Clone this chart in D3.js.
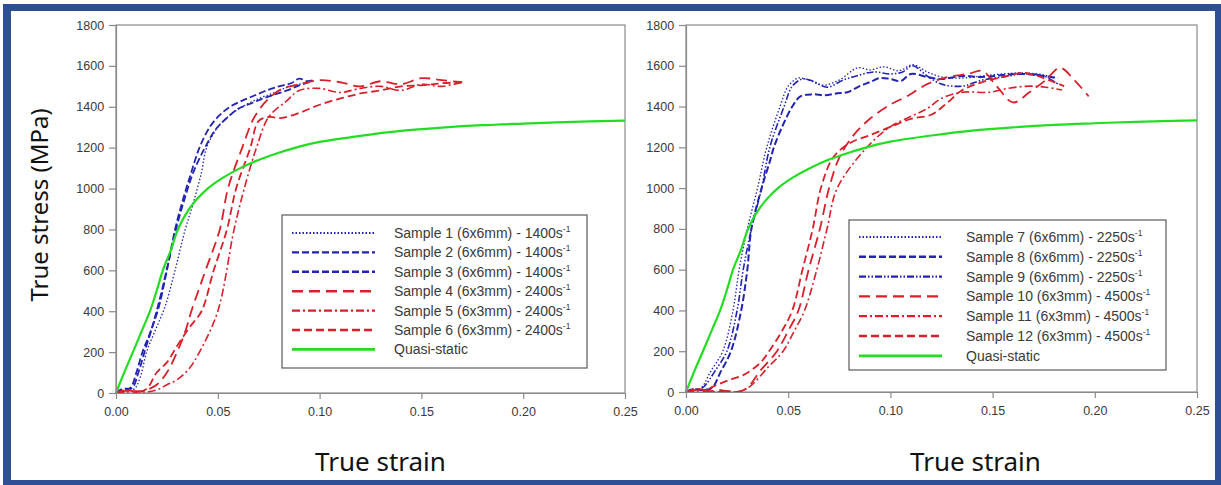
<!DOCTYPE html>
<html>
<head>
<meta charset="utf-8">
<script src="https://cdn.jsdelivr.net/npm/d3@7"></script>
<style>
  body { margin: 0; background: #fff; }
  svg { display: block; }
</style>
</head>
<body>
<svg id="chart" width="1221" height="485"></svg>
<script>
// strain / stress pairs
const quasiStatic = [[0,0],[0.004,100],[0.0083,200],[0.0125,300],[0.0167,400],[0.020,500],[0.023,600],[0.027,700],[0.030,790],[0.034,870],[0.039,940],[0.045,1000],[0.052,1050],[0.061,1100],[0.07,1140],[0.08,1175],[0.09,1205],[0.10,1228],[0.12,1258],[0.14,1282],[0.16,1298],[0.18,1310],[0.20,1318],[0.22,1325],[0.25,1332]];

const sample1 = [[0,0],[0.005,10],[0.009,20],[0.012,80],[0.015,200],[0.019,300],[0.024,420],[0.029,600],[0.034,800],[0.038,930],[0.042,1080],[0.0445,1200],[0.050,1300],[0.056,1360],[0.062,1400],[0.070,1440],[0.078,1470],[0.084,1495],[0.090,1510],[0.094,1520]];
const sample2 = [[0,0],[0.003,20],[0.007,25],[0.010,100],[0.013,200],[0.017,300],[0.021,420],[0.025,600],[0.029,800],[0.033,950],[0.037,1080],[0.041,1200],[0.046,1300],[0.051,1360],[0.056,1400],[0.062,1430],[0.068,1455],[0.074,1480],[0.080,1500],[0.086,1515],[0.090,1538],[0.094,1525],[0.097,1530]];
const sample3 = [[0,0],[0.004,15],[0.008,25],[0.011,100],[0.014,200],[0.018,330],[0.022,480],[0.026,650],[0.030,820],[0.034,960],[0.038,1080],[0.0437,1200],[0.049,1290],[0.055,1350],[0.060,1390],[0.066,1415],[0.072,1440],[0.078,1460],[0.084,1480],[0.090,1505],[0.095,1520]];
const sample4 = [[0,0],[0.005,10],[0.010,5],[0.015,15],[0.020,40],[0.025,100],[0.030,200],[0.034,300],[0.037,400],[0.044,600],[0.051,800],[0.055,1000],[0.062,1200],[0.068,1350],[0.075,1440],[0.082,1490],[0.090,1510],[0.10,1530],[0.11,1520],[0.12,1500],[0.13,1525],[0.14,1510],[0.15,1540],[0.16,1530],[0.17,1520]];
const sample5 = [[0,0],[0.005,5],[0.010,10],[0.015,5],[0.020,15],[0.025,40],[0.030,65],[0.036,120],[0.041,200],[0.050,400],[0.058,800],[0.063,1000],[0.069,1200],[0.075,1350],[0.084,1430],[0.090,1480],[0.10,1490],[0.11,1470],[0.12,1490],[0.13,1500],[0.14,1480],[0.15,1510],[0.16,1500],[0.17,1520]];
const sample6 = [[0,0],[0.005,15],[0.010,5],[0.015,20],[0.020,100],[0.025,150],[0.030,230],[0.036,320],[0.042,400],[0.048,600],[0.0545,800],[0.059,1000],[0.066,1200],[0.070,1330],[0.075,1350],[0.081,1345],[0.090,1370],[0.10,1410],[0.11,1440],[0.12,1465],[0.13,1480],[0.14,1500],[0.15,1505],[0.16,1515],[0.17,1520]];

const sample7 = [[0,0],[0.003,15],[0.006,10],[0.0083,30],[0.012,100],[0.018,200],[0.023,400],[0.026,600],[0.030,800],[0.035,1000],[0.0395,1200],[0.046,1400],[0.050,1500],[0.055,1540],[0.060,1530],[0.067,1505],[0.075,1530],[0.084,1590],[0.090,1580],[0.097,1595],[0.104,1575],[0.111,1605],[0.118,1570],[0.125,1545],[0.135,1540],[0.145,1550],[0.155,1560],[0.165,1565],[0.175,1555],[0.180,1540]];
const sample8 = [[0,0],[0.004,15],[0.008,10],[0.0127,20],[0.017,100],[0.022,200],[0.027,400],[0.030,600],[0.032,800],[0.037,1000],[0.041,1130],[0.043,1200],[0.047,1300],[0.052,1400],[0.056,1450],[0.062,1460],[0.068,1455],[0.074,1465],[0.079,1470],[0.085,1500],[0.090,1520],[0.095,1540],[0.100,1535],[0.105,1525],[0.110,1560],[0.118,1545],[0.125,1535],[0.135,1550],[0.145,1545],[0.155,1555],[0.165,1560],[0.175,1550],[0.182,1540]];
const sample9 = [[0,0],[0.004,10],[0.008,20],[0.010,40],[0.014,100],[0.020,200],[0.025,400],[0.028,600],[0.032,800],[0.037,1000],[0.041,1200],[0.048,1400],[0.052,1500],[0.057,1535],[0.062,1525],[0.069,1495],[0.077,1530],[0.085,1555],[0.092,1570],[0.100,1560],[0.106,1570],[0.111,1600],[0.118,1550],[0.125,1510],[0.135,1500],[0.145,1530],[0.155,1545],[0.165,1560],[0.175,1550],[0.182,1510]];
const sample10 = [[0,0],[0.005,10],[0.010,0],[0.015,10],[0.020,5],[0.025,0],[0.030,20],[0.036,100],[0.0445,200],[0.050,300],[0.055,400],[0.060,600],[0.0655,800],[0.070,1000],[0.075,1150],[0.082,1260],[0.090,1340],[0.100,1410],[0.108,1450],[0.118,1510],[0.128,1545],[0.138,1560],[0.145,1575],[0.152,1500],[0.160,1420],[0.168,1470],[0.176,1530],[0.183,1590],[0.190,1530],[0.197,1450]];
const sample11 = [[0,0],[0.005,5],[0.010,10],[0.015,0],[0.020,5],[0.025,0],[0.031,25],[0.040,120],[0.0475,200],[0.053,300],[0.058,400],[0.064,600],[0.069,800],[0.074,1000],[0.0885,1200],[0.0998,1300],[0.1096,1350],[0.118,1390],[0.125,1440],[0.135,1470],[0.1487,1470],[0.158,1490],[0.168,1500],[0.176,1495],[0.184,1481]];
const sample12 = [[0,0],[0.005,15],[0.010,10],[0.013,25],[0.020,55],[0.028,83],[0.036,140],[0.041,205],[0.047,300],[0.052,400],[0.057,600],[0.062,800],[0.066,1000],[0.072,1150],[0.080,1220],[0.090,1260],[0.100,1300],[0.110,1340],[0.120,1360],[0.128,1420],[0.135,1480],[0.145,1520],[0.155,1545],[0.165,1565],[0.172,1550],[0.180,1520],[0.185,1500]];

const leftLabels = ["Sample 1 (6x6mm) - 1400s", "Sample 2 (6x6mm) - 1400s", "Sample 3 (6x6mm) - 1400s",
  "Sample 4 (6x3mm) - 2400s", "Sample 5 (6x3mm) - 2400s", "Sample 6 (6x3mm) - 2400s", "Quasi-static"];
const rightLabels = ["Sample 7 (6x6mm) - 2250s", "Sample 8 (6x6mm) - 2250s", "Sample 9 (6x6mm) - 2250s",
  "Sample 10 (6x3mm) - 4500s", "Sample 11 (6x3mm) - 4500s", "Sample 12 (6x3mm) - 4500s", "Quasi-static"];

const xTicks = [0, 0.05, 0.10, 0.15, 0.20, 0.25];
const yTicks = [0, 200, 400, 600, 800, 1000, 1200, 1400, 1600, 1800];

const BLUE = "#2323b4", RED = "#d9202a", GREEN = "#22dd22";

const leftSeries = [
  {data: sample1, color: BLUE, dash: "1.5,2", w: 1.3},
  {data: sample2, color: BLUE, dash: "7,3", w: 1.8},
  {data: sample3, color: BLUE, dash: "7,3", w: 1.8},
  {data: sample4, color: RED, dash: "11,6", w: 1.8},
  {data: sample5, color: RED, dash: "8,3,2,3", w: 1.6},
  {data: sample6, color: RED, dash: "8,4", w: 1.8},
  {data: quasiStatic, color: GREEN, dash: null, w: 2.2}
];
const rightSeries = [
  {data: sample7, color: BLUE, dash: "1.5,2", w: 1.3},
  {data: sample8, color: BLUE, dash: "7,3", w: 2},
  {data: sample9, color: BLUE, dash: "7,2,1.5,2,1.5,2", w: 1.6},
  {data: sample10, color: RED, dash: "11,6", w: 1.8},
  {data: sample11, color: RED, dash: "8,3,2,3", w: 1.6},
  {data: sample12, color: RED, dash: "8,4", w: 1.8},
  {data: quasiStatic, color: GREEN, dash: null, w: 2.2}
];

const svg = d3.select("#chart");

// blue frame around the figure
const frame = "#2e4f96";
svg.append("rect").attr("x", 3).attr("y", 4).attr("width", 8).attr("height", 481).attr("fill", frame);
svg.append("rect").attr("x", 3).attr("y", 4).attr("width", 1218).attr("height", 7).attr("fill", frame);
svg.append("rect").attr("x", 1215).attr("y", 4).attr("width", 6).attr("height", 481).attr("fill", frame);
svg.append("rect").attr("x", 3).attr("y", 480).attr("width", 1218).attr("height", 5).attr("fill", frame);

function drawPanel(opt) {
  const x = d3.scaleLinear().domain([0, 0.25]).range([opt.x0, opt.x1]);
  const y = d3.scaleLinear().domain([0, 1800]).range([opt.y0, opt.y1]);
  const g = svg.append("g");

  // frame box
  g.append("rect")
    .attr("x", opt.x0).attr("y", opt.y1)
    .attr("width", opt.x1 - opt.x0).attr("height", opt.y0 - opt.y1)
    .attr("fill", "none").attr("stroke", "#8a8a8a").attr("stroke-width", 1.2);

  const line = d3.line().x(d => x(d[0])).y(d => y(d[1])).curve(d3.curveCatmullRom.alpha(0.5));

  opt.series.forEach(s => {
    g.append("path")
      .attr("d", line(s.data))
      .attr("fill", "none")
      .attr("stroke", s.color)
      .attr("stroke-width", s.w)
      .attr("stroke-dasharray", s.dash);
  });

  const xAxis = g.append("g")
    .attr("transform", `translate(0,${opt.y0})`)
    .call(d3.axisBottom(x).tickValues(xTicks).tickFormat(d3.format(".2f")).tickSize(6).tickSizeOuter(0));
  const yAxis = g.append("g")
    .attr("transform", `translate(${opt.x0},0)`)
    .call(d3.axisLeft(y).tickValues(yTicks).tickFormat(d3.format("d")).tickSize(7).tickSizeOuter(0));
  [xAxis, yAxis].forEach(a => {
    a.select(".domain").attr("stroke", "#8a8a8a").attr("stroke-width", 1.2);
    a.selectAll(".tick line").attr("stroke", "#8a8a8a").attr("stroke-width", 1.2);
    a.selectAll(".tick text").attr("fill", "#3a3a3a")
      .style("font-family", "Liberation Sans, Arial, sans-serif").style("font-size", "12.5px");
  });
  xAxis.selectAll(".tick text").attr("dy", "1.1em");
  yAxis.selectAll(".tick text").attr("dx", "-0.15em");

  // legend
  const lg = g.append("g");
  lg.append("rect")
    .attr("x", opt.lx).attr("y", opt.ly)
    .attr("width", opt.lw).attr("height", opt.lh)
    .attr("fill", "#fff").attr("stroke", "#5a5a5a").attr("stroke-width", 1.2);
  opt.series.forEach((s, i) => {
    const yy = opt.ly + opt.r0 + i * opt.dr;
    lg.append("line")
      .attr("x1", opt.lx + 10).attr("x2", opt.lx + 93)
      .attr("y1", yy).attr("y2", yy)
      .attr("stroke", s.color).attr("stroke-width", s.w + 0.6)
      .attr("stroke-dasharray", s.dash);
    const t = lg.append("text")
      .attr("x", opt.lx + opt.tx).attr("y", yy + 5)
      .attr("fill", "#3a3a3a")
      .style("font-family", "Liberation Sans, Arial, sans-serif").style("font-size", "14px")
      .text(opt.labels[i]);
    if (i < 6) {
      t.append("tspan").attr("dy", -6).style("font-size", "8.5px").text("-1");
    }
  });

  // axis titles
  g.append("text")
    .attr("x", (opt.x0 + opt.x1) / 2 + opt.xtOff).attr("y", 471)
    .attr("text-anchor", "middle").attr("fill", "#111")
    .style("font-family", "Noto Sans, sans-serif").style("font-size", "26px")
    .text("True strain");
}

drawPanel({x0: 116, x1: 625, y0: 393, y1: 25, series: leftSeries, labels: leftLabels,
  lx: 282, ly: 215, lw: 305, lh: 153, r0: 18, dr: 19.4, tx: 112, xtOff: 10});
drawPanel({x0: 686, x1: 1197, y0: 392, y1: 25, series: rightSeries, labels: rightLabels,
  lx: 849, ly: 220, lw: 317, lh: 150, r0: 17, dr: 19.8, tx: 117, xtOff: 34});

svg.append("text")
  .attr("transform", "translate(48,205) rotate(-90)")
  .attr("text-anchor", "middle").attr("fill", "#111")
  .style("font-family", "Noto Sans, sans-serif").style("font-size", "24px")
  .text("True stress (MPa)");
</script>
</body>
</html>
